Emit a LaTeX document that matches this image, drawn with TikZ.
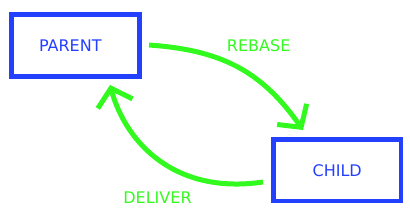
\documentclass[tikz,border=0pt]{standalone}
\usepackage{fontspec}
\setmainfont{DejaVu Sans}
\usetikzlibrary{arrows.meta}
\definecolor{boxblue}{RGB}{36,64,255}
\definecolor{arrgreen}{RGB}{50,250,30}
\begin{document}
\begin{tikzpicture}[x=1pt,y=-1pt,
  boxnode/.style={draw=boxblue,line width=4.7pt,minimum width=127.7pt,minimum height=61.5pt,
    inner sep=0pt,text=boxblue,font=\fontsize{16}{19}\selectfont},
  flow/.style={draw=arrgreen,line width=5pt,-{Straight Barb[length=16pt,width=36pt]}},
  flowlabel/.style={text=arrgreen,inner sep=0pt,font=\fontsize{16}{19}\selectfont}]
\useasboundingbox (0,0) rectangle (410,215);
\node[boxnode] (parent) at (75.3,45.5) {PARENT\hspace*{10pt}};
\node[boxnode] (child) at (337.2,170.2) {CHILD};
\coordinate (rbS) at (149,45);
\coordinate (rbE) at (303,130);
\coordinate (dlS) at (263,182);
\coordinate (dlE) at (110,85);
\draw[flow] (rbS) .. controls (220,50) and (261,70) .. (rbE);
\draw[flow] (dlS) .. controls (175,195) and (126,143) .. (dlE);
\node[flowlabel] (rebase) at (258.7,46) {REBASE};
\node[flowlabel] (deliver) at (157.5,198) {DELIVER};
\end{tikzpicture}
\end{document}
